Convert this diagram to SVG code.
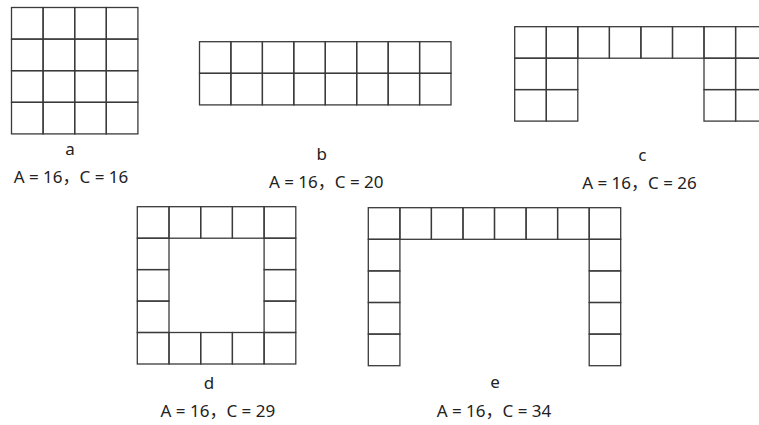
<svg xmlns="http://www.w3.org/2000/svg" width="759" height="425" viewBox="0 0 759 425">
<style>
.c{fill:none;stroke:#3a3a3a;stroke-width:1.3}
.t{font-family:"Noto Sans","Noto Sans CJK SC",sans-serif;font-size:17px;fill:#222;text-anchor:middle}
</style>
<rect width="759" height="425" fill="#fff"/>
<g id="fig-a">
<g class="c">
<rect x="11.5" y="7.5" width="31.6" height="31.6"/><rect x="43.1" y="7.5" width="31.6" height="31.6"/><rect x="74.7" y="7.5" width="31.6" height="31.6"/><rect x="106.3" y="7.5" width="31.6" height="31.6"/>
<rect x="11.5" y="39.1" width="31.6" height="31.6"/><rect x="43.1" y="39.1" width="31.6" height="31.6"/><rect x="74.7" y="39.1" width="31.6" height="31.6"/><rect x="106.3" y="39.1" width="31.6" height="31.6"/>
<rect x="11.5" y="70.7" width="31.6" height="31.6"/><rect x="43.1" y="70.7" width="31.6" height="31.6"/><rect x="74.7" y="70.7" width="31.6" height="31.6"/><rect x="106.3" y="70.7" width="31.6" height="31.6"/>
<rect x="11.5" y="102.3" width="31.6" height="31.6"/><rect x="43.1" y="102.3" width="31.6" height="31.6"/><rect x="74.7" y="102.3" width="31.6" height="31.6"/><rect x="106.3" y="102.3" width="31.6" height="31.6"/>
</g>
<text class="t" x="70" y="155">a</text>
<text class="t" x="71" y="183.3">A = 16，C = 16</text>
</g>
<g id="fig-b">
<g class="c">
<rect x="199.5" y="41.7" width="31.4" height="31.6"/><rect x="230.9" y="41.7" width="31.5" height="31.6"/><rect x="262.4" y="41.7" width="31.4" height="31.6"/><rect x="293.8" y="41.7" width="31.5" height="31.6"/><rect x="325.3" y="41.7" width="31.4" height="31.6"/><rect x="356.7" y="41.7" width="31.5" height="31.6"/><rect x="388.2" y="41.7" width="31.4" height="31.6"/><rect x="419.6" y="41.7" width="31.4" height="31.6"/>
<rect x="199.5" y="73.3" width="31.4" height="31.6"/><rect x="230.9" y="73.3" width="31.5" height="31.6"/><rect x="262.4" y="73.3" width="31.4" height="31.6"/><rect x="293.8" y="73.3" width="31.5" height="31.6"/><rect x="325.3" y="73.3" width="31.4" height="31.6"/><rect x="356.7" y="73.3" width="31.5" height="31.6"/><rect x="388.2" y="73.3" width="31.4" height="31.6"/><rect x="419.6" y="73.3" width="31.4" height="31.6"/>
</g>
<text class="t" x="321.7" y="160">b</text>
<text class="t" x="326.2" y="188.3">A = 16，C = 20</text>
</g>
<g id="fig-c">
<g class="c">
<rect x="514.7" y="26.7" width="31.6" height="31.5"/><rect x="546.3" y="26.7" width="31.5" height="31.5"/><rect x="577.8" y="26.7" width="31.6" height="31.5"/><rect x="609.4" y="26.7" width="31.5" height="31.5"/><rect x="640.9" y="26.7" width="31.6" height="31.5"/><rect x="672.5" y="26.7" width="31.5" height="31.5"/><rect x="704" y="26.7" width="31.6" height="31.5"/><rect x="735.6" y="26.7" width="31.5" height="31.5"/>
<rect x="514.7" y="58.2" width="31.6" height="31.4"/><rect x="546.3" y="58.2" width="31.5" height="31.4"/><rect x="704" y="58.2" width="31.6" height="31.4"/><rect x="735.6" y="58.2" width="31.5" height="31.4"/>
<rect x="514.7" y="89.6" width="31.6" height="31.5"/><rect x="546.3" y="89.6" width="31.5" height="31.5"/><rect x="704" y="89.6" width="31.6" height="31.5"/><rect x="735.6" y="89.6" width="31.5" height="31.5"/>
</g>
<text class="t" x="642.3" y="160.7">c</text>
<text class="t" x="639.5" y="189">A = 16，C = 26</text>
</g>
<g id="fig-d">
<g class="c">
<rect x="137.3" y="206.7" width="31.7" height="31.5"/><rect x="169" y="206.7" width="31.7" height="31.5"/><rect x="200.7" y="206.7" width="31.7" height="31.5"/><rect x="232.4" y="206.7" width="31.7" height="31.5"/><rect x="264.1" y="206.7" width="31.7" height="31.5"/>
<rect x="137.3" y="238.2" width="31.7" height="31.4"/><rect x="264.1" y="238.2" width="31.7" height="31.4"/>
<rect x="137.3" y="269.6" width="31.7" height="31.5"/><rect x="264.1" y="269.6" width="31.7" height="31.5"/>
<rect x="137.3" y="301.1" width="31.7" height="31.4"/><rect x="264.1" y="301.1" width="31.7" height="31.4"/>
<rect x="137.3" y="332.5" width="31.7" height="31.5"/><rect x="169" y="332.5" width="31.7" height="31.5"/><rect x="200.7" y="332.5" width="31.7" height="31.5"/><rect x="232.4" y="332.5" width="31.7" height="31.5"/><rect x="264.1" y="332.5" width="31.7" height="31.5"/>
</g>
<text class="t" x="209" y="389.3">d</text>
<text class="t" x="217.9" y="417.3">A = 16，C = 29</text>
</g>
<g id="fig-e">
<g class="c">
<rect x="368.3" y="207.7" width="31.6" height="31.6"/><rect x="399.9" y="207.7" width="31.5" height="31.6"/><rect x="431.4" y="207.7" width="31.6" height="31.6"/><rect x="463" y="207.7" width="31.5" height="31.6"/><rect x="494.5" y="207.7" width="31.6" height="31.6"/><rect x="526.1" y="207.7" width="31.5" height="31.6"/><rect x="557.6" y="207.7" width="31.6" height="31.6"/><rect x="589.2" y="207.7" width="31.5" height="31.6"/>
<rect x="368.3" y="239.3" width="31.6" height="31.6"/><rect x="589.2" y="239.3" width="31.5" height="31.6"/>
<rect x="368.3" y="270.9" width="31.6" height="31.6"/><rect x="589.2" y="270.9" width="31.5" height="31.6"/>
<rect x="368.3" y="302.5" width="31.6" height="31.6"/><rect x="589.2" y="302.5" width="31.5" height="31.6"/>
<rect x="368.3" y="334.1" width="31.6" height="31.6"/><rect x="589.2" y="334.1" width="31.5" height="31.6"/>
</g>
<text class="t" x="495" y="388.3">e</text>
<text class="t" x="494" y="416.7">A = 16，C = 34</text>
</g>
</svg>
